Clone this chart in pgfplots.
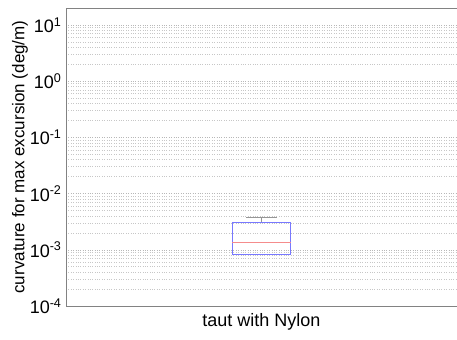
\documentclass[border=0pt]{standalone}
\usepackage{fontspec}
\setmainfont{Liberation Sans}
\usepackage{pgfplots}
\pgfplotsset{compat=1.18}
\definecolor{boxblue}{RGB}{120,120,255}
\definecolor{medred}{RGB}{245,140,140}
\definecolor{whiskgray}{RGB}{150,150,150}
\definecolor{spine}{RGB}{130,130,130}
\begin{document}
\begin{tikzpicture}
\useasboundingbox (0,0) rectangle (457bp,340bp);
\begin{axis}[
  at={(66bp,34bp)}, anchor=south west,
  scale only axis, width=391bp, height=298bp,
  ymode=log, ymin=1e-4, ymax=20,
  xmin=0.5, xmax=1.5,
  xtick={1}, xticklabels={taut with Nylon},
  axis lines*=left,
  axis line style={spine, line width=0.8bp},
  ymajorgrids, yminorgrids,
  major grid style={dotted, black!28, line width=0.5bp},
  minor grid style={dotted, black!22, line width=0.5bp},
  tick align=inside,
  major tick length=0bp, minor tick length=0bp,
  log number format basis/.code 2 args={#1\textsuperscript{\pgfmathprintnumber[assume math mode=true]{#2}}},
  tick label style={font=\fontsize{18bp}{21bp}\selectfont},
  yticklabel style={xshift=-1bp},
  xticklabel style={yshift=-4bp},
  label style={font=\fontsize{17bp}{20bp}\selectfont},
  ylabel={curvature for max excursion (deg/m)},
  ylabel style={at={(axis description cs:-0.118,0.5)}, anchor=center},
]
% whisker (upper)
\addplot[whiskgray, line width=1bp] coordinates {(1,0.0030) (1,0.00378)};
\addplot[whiskgray, line width=1bp] coordinates {(0.9615,0.00378) (1.0385,0.00378)};
% lower cap coincides with box bottom
\addplot[whiskgray, line width=1bp] coordinates {(0.9615,0.00081) (1.0385,0.00081)};
% box
\addplot[boxblue, line width=1bp] coordinates {(0.925,0.00081) (1.075,0.00081) (1.075,0.0030) (0.925,0.0030) (0.925,0.00081)} -- cycle;
% median
\addplot[medred, line width=1bp] coordinates {(0.925,0.00135) (1.075,0.00135)};
\draw[spine, line width=0.8bp] (rel axis cs:0,1) -- (rel axis cs:1,1);
\end{axis}
\end{tikzpicture}
\end{document}
